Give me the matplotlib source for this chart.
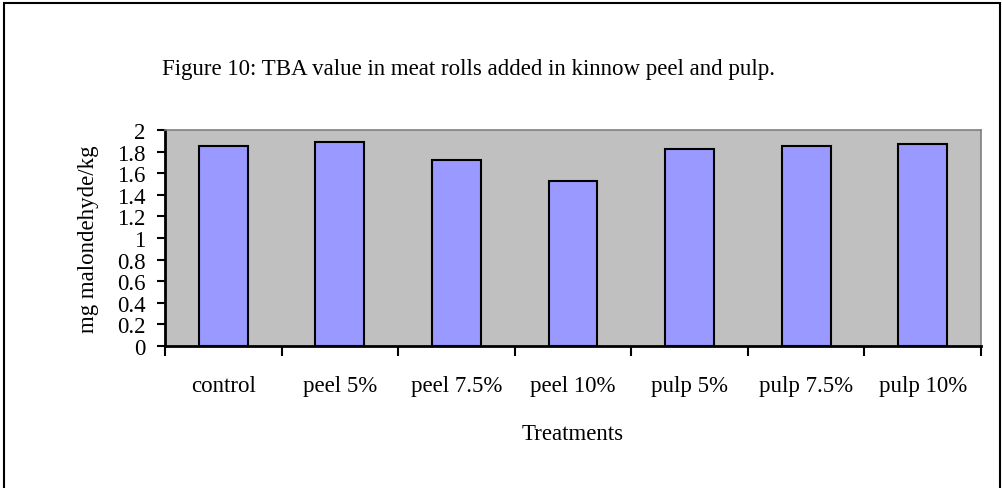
import matplotlib.pyplot as plt
from matplotlib.patches import Rectangle

treatments = ["control", "peel 5%", "peel 7.5%", "peel 10%",
              "pulp 5%", "pulp 7.5%", "pulp 10%"]
tba_values = [1.85, 1.89, 1.72, 1.53, 1.82, 1.85, 1.87]
y_ticks = [0, 0.2, 0.4, 0.6, 0.8, 1, 1.2, 1.4, 1.6, 1.8, 2]
y_tick_labels = ["0", "0.2", "0.4", "0.6", "0.8", "1", "1.2", "1.4",
                 "1.6", "1.8", "2"]

plt.rcParams['font.family'] = ['Liberation Serif', 'DejaVu Serif']
FS = 16.5

W, H = 1002, 489
fig = plt.figure(figsize=(W / 100, H / 100), dpi=100)
fig.patches.append(Rectangle((4 / W, -0.01), (W - 6) / W, 1.01 - 4 / H,
                             transform=fig.transFigure, fill=False,
                             edgecolor='black', linewidth=1.5))

ax = fig.add_axes([165 / W, 1 - 347 / H, (981 - 165) / W, (347 - 131) / H])
ax.set_facecolor('#C0C0C0')

x = list(range(len(treatments)))
ax.bar(x, tba_values, width=0.42, color='#9999FF', edgecolor='black',
       linewidth=1.5, zorder=3)

ax.set_xlim(-0.5, len(treatments) - 0.5)
ax.set_ylim(0, 2)
ax.set_yticks(y_ticks)
ax.set_yticklabels(y_tick_labels)
# category boundaries carry the tick marks, labels sit between them
ax.set_xticks([i - 0.5 for i in range(len(treatments) + 1)])
ax.set_xticklabels([])
ax.set_xticks(x, minor=True)
ax.set_xticklabels(treatments, minor=True)
ax.tick_params(axis='x', which='minor', length=0, pad=21, labelsize=FS)
ax.tick_params(axis='x', which='major', length=7, width=1.5, direction='out')
ax.tick_params(axis='y', length=6, width=1.5, direction='out',
               labelsize=FS, pad=8)

for side in ['left', 'bottom']:
    ax.spines[side].set_linewidth(2)
for side in ['top', 'right']:
    ax.spines[side].set_color('#808080')
    ax.spines[side].set_linewidth(1.2)

ax.set_ylabel("mg malondehyde/kg", fontsize=FS, labelpad=13)
ax.set_xlabel("Treatments", fontsize=FS, labelpad=19)

fig.text(162 / W, 1 - 70 / H, "Figure 10: TBA value in meat rolls added in kinnow peel and pulp.",
         fontsize=FS, va='center', ha='left')

fig.savefig("out.png", dpi=100)
